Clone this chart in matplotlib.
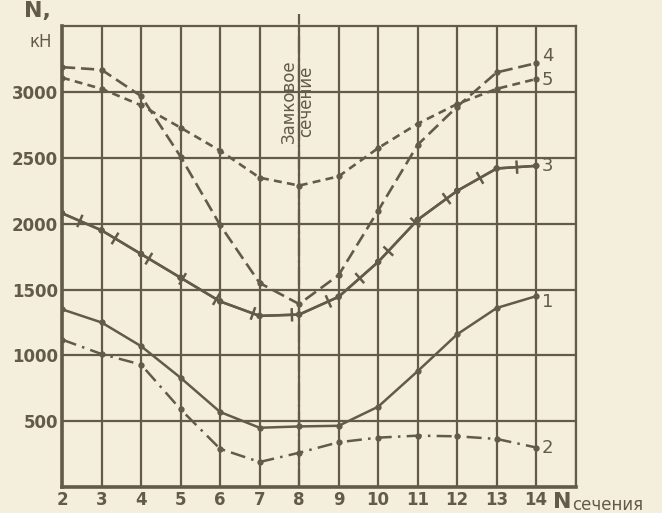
import matplotlib.pyplot as plt
import matplotlib.patheffects as pe

# section numbers along the arch
sections = [2, 3, 4, 5, 6, 7, 8, 9, 10, 11, 12, 13, 14]

# axial force N, kN, for the five load cases
n1 = [1350, 1250, 1070, 830, 570, 450, 460, 465, 610, 880, 1160, 1360, 1450]
n2 = [1120, 1010, 930, 590, 290, 190, 260, 340, 375, 390, 385, 365, 300]
n3 = [2080, 1950, 1770, 1590, 1410, 1300, 1310, 1445, 1710, 2030, 2250, 2420, 2440]
n4 = [3190, 3170, 2970, 2510, 1990, 1550, 1390, 1610, 2100, 2600, 2890, 3150, 3220]
n5 = [3110, 3025, 2900, 2730, 2555, 2350, 2290, 2360, 2575, 2760, 2910, 3025, 3100]

y_ticks = [500, 1000, 1500, 2000, 2500, 3000]
crown = 8

bg = '#f4efdc'
ink = '#625a4b'

fig = plt.figure(figsize=(6.62, 5.13), dpi=100, facecolor=bg)
ax = fig.add_axes([0.0937, 0.0507, 0.776, 0.898], facecolor=bg)
ax.set_xlim(2, 15)
ax.set_ylim(0, 3500)

# grid
for x in range(2, 16):
    ax.axvline(x, color=ink, lw=1.6, zorder=1)
for y in y_ticks:
    ax.axhline(y, color=ink, lw=1.6, zorder=1)
for s in ax.spines.values():
    s.set_color(ink)
    s.set_linewidth(1.6)
ax.spines['left'].set_linewidth(2.6)
ax.spines['bottom'].set_linewidth(2.6)

# crown section marker
ax.plot([crown, crown], [0, 3590], color=ink, lw=1.6, ls=(0, (8, 2, 1, 2)),
        clip_on=False, zorder=2)
ax.text(crown - 0.04, 2930, 'Замковое\nсечение', rotation=90, ha='center', va='center',
        fontsize=12, color=ink, linespacing=1.0, zorder=3)

kw = dict(color=ink, marker='o', markersize=3.5, zorder=4)
ax.plot(sections, n1, lw=1.8, ls='-', **kw)
ax.plot(sections, n2, lw=1.8, ls=(0, (6, 2.5, 1, 2.5)), **kw)
ax.plot(sections, n3, lw=1.8, ls='-',
        path_effects=[pe.withTickedStroke(angle=90, spacing=28, length=0.14),
                      pe.withTickedStroke(angle=-90, spacing=28, length=0.14)],
        **kw)
ax.plot(sections, n4, lw=1.9, ls=(0, (5, 2.2)), **kw)
ax.plot(sections, n5, lw=1.9, ls=(0, (3, 2)), **kw)

# curve numbers
offsets = [(4, -4), (4, 0), (4, 0), (4, 5), (4, -1)]
for lab, ys, off in zip(['1', '2', '3', '4', '5'], [n1, n2, n3, n4, n5], offsets):
    ax.annotate(lab, (sections[-1], ys[-1]), xytext=off, textcoords='offset points',
                fontsize=13, color=ink, va='center', ha='left')

# ticks
ax.set_xticks(sections)
ax.set_xticklabels([str(s) for s in sections])
ax.set_yticks(y_ticks)
ax.set_yticklabels([str(v) for v in y_ticks])
ax.tick_params(length=0, colors=ink, labelsize=12, pad=3)
for t in ax.get_xticklabels() + ax.get_yticklabels():
    t.set_fontweight('bold')

# axis titles
ax.text(-0.022, 1.012, 'N,', transform=ax.transAxes, ha='right', va='bottom',
        fontsize=16, fontweight='bold', color=ink)
ax.text(-0.02, 0.985, 'кН', transform=ax.transAxes, ha='right', va='top',
        fontsize=12, color=ink)
ax.text(14.42, -35, 'N', ha='left', va='top', fontsize=16, fontweight='bold',
        color=ink, clip_on=False)
ax.text(14.92, -65, 'сечения', ha='left', va='top', fontsize=12, color=ink,
        clip_on=False)

fig.savefig('out.png', dpi=100, facecolor=bg)
